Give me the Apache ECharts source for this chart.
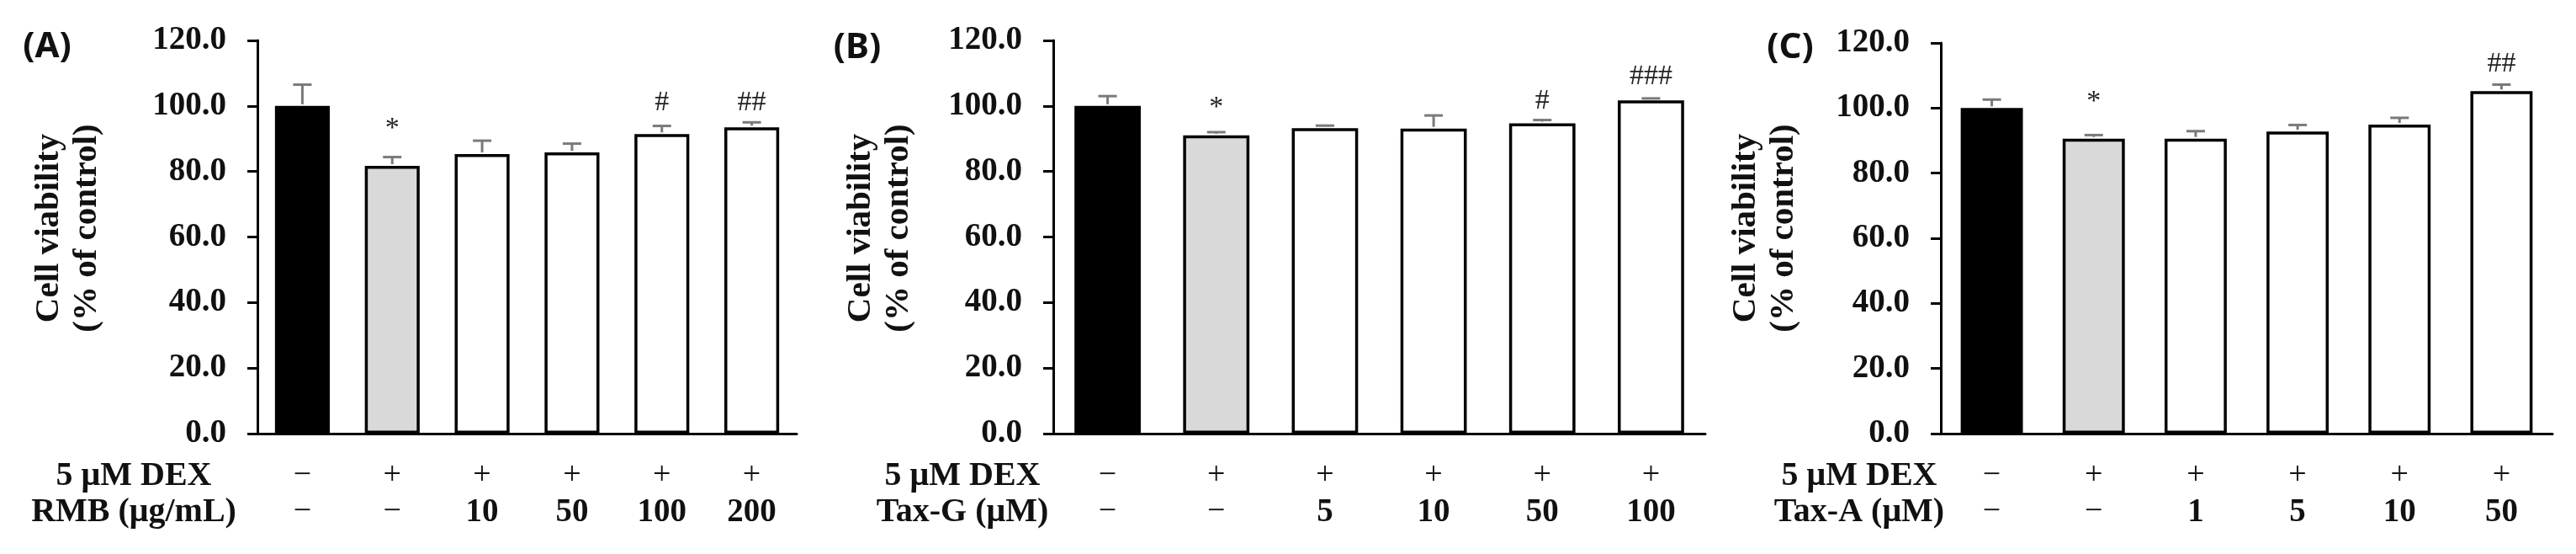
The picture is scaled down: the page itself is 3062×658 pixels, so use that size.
<!DOCTYPE html>
<html>
<head>
<meta charset="utf-8">
<script src="https://cdn.jsdelivr.net/npm/echarts@6/dist/echarts.min.js"></script>
<style>
  html, body { margin: 0; padding: 0; background: #fff; }
  #chart { width: 3062px; height: 658px; }
</style>
</head>
<body>
<div id="chart"></div>
<script>
// treatment rows under each panel
const dexRow = ['−', '+', '+', '+', '+', '+']
const concA = ['−', '−', '10', '50', '100', '200']
const concB = ['−', '−', '5', '10', '50', '100']
const concC = ['−', '−', '1', '5', '10', '50']

// cell viability (% of control), mean and upper error
const meanA = [100, 81.7, 85.3, 85.8, 91.4, 93.5]
const errA = [6.5, 2.7, 4.1, 2.7, 2.5, 1.5]
const meanB = [100, 91.0, 93.2, 93.1, 94.7, 101.7]
const errB = [3.0, 1.0, 0.8, 4.0, 1.0, 0.6]
const meanC = [100, 90.6, 90.6, 92.8, 94.9, 105.2]
const errC = [2.6, 1.1, 2.3, 2.0, 2.1, 2.0]

// significance marks and the value height they sit at
const sigA = ['', '*', '', '', '#', '##']
const sigYA = [null, 93, null, null, 101, 101]
const sigB = ['', '*', '', '', '#', '###']
const sigYB = [null, 99.5, null, null, 101.5, 109]
const sigC = ['', '*', '', '', '', '##']
const sigYC = [null, 102, null, null, null, 113.5]

const yTicks = [0, 20, 40, 60, 80, 100, 120]
const drugLabels = ['RMB (μg/mL)', 'Tax-G (μM)', 'Tax-A (μM)']
const panelNames = ['(A)', '(B)', '(C)']

const panels = [
  { conc: concA, mean: meanA, err: errA, sig: sigA, sigY: sigYA,
    grid: { left: 306, top: 48, width: 641, height: 467 }, yName: 81, rowX: 159, tag: [56, 56] },
  { conc: concB, mean: meanB, err: errB, sig: sigB, sigY: sigYB,
    grid: { left: 1252, top: 48, width: 775, height: 467 }, yName: 1046, rowX: 1144, tag: [1019, 57] },
  { conc: concC, mean: meanC, err: errC, sig: sigC, sigY: sigYC,
    grid: { left: 2307, top: 51, width: 727, height: 464 }, yName: 2098, rowX: 2210, tag: [2128, 57] }
]

const serif = '"Liberation Serif", "Times New Roman", serif'
const ink = '#111'

const chart = echarts.init(document.getElementById('chart'), null, { renderer: 'canvas' })

const grids = []
const xAxes = []
const yAxes = []
const series = []
const graphics = []

panels.forEach((p, i) => {
  grids.push(Object.assign({ containLabel: false }, p.grid))

  xAxes.push({
    type: 'category',
    gridIndex: i,
    data: dexRow.map((d, j) => d + '\n' + p.conc[j]),
    axisLine: { lineStyle: { color: '#000', width: 3 } },
    axisTick: { alignWithLabel: true, length: 12, lineStyle: { color: '#000', width: 3 } },
    axisLabel: {
      interval: 0,
      margin: 29,
      formatter: v => {
        const parts = v.split('\n')
        const second = parts[1] === '−' ? 's' : 'n'
        return '{s|' + parts[0] + '}\n{' + second + '|' + parts[1] + '}'
      },
      rich: {
        s: { fontFamily: serif, fontSize: 38, fontWeight: 'normal', color: ink, lineHeight: 43 },
        n: { fontFamily: serif, fontSize: 39, fontWeight: 'bold', color: ink, lineHeight: 43 }
      }
    }
  })

  yAxes.push({
    type: 'value',
    gridIndex: i,
    min: yTicks[0],
    max: yTicks[yTicks.length - 1],
    interval: 20,
    axisLine: { show: true, lineStyle: { color: '#000', width: 3 } },
    axisTick: { show: true, length: 12, lineStyle: { color: '#000', width: 3 } },
    splitLine: { show: false },
    axisLabel: {
      margin: 37,
      formatter: v => v.toFixed(1),
      fontFamily: serif,
      fontSize: 39,
      fontWeight: 'bold',
      color: ink
    }
  })

  series.push({
    type: 'bar',
    xAxisIndex: i,
    yAxisIndex: i,
    barCategoryGap: '39%',
    itemStyle: { borderColor: '#000', borderWidth: 3.5 },
    data: p.mean.map((v, j) => ({
      value: v,
      itemStyle: { color: j === 0 ? '#000' : (j === 1 ? '#d9d9d9' : '#fff') }
    })),
    z: 2
  })

  series.push({
    type: 'custom',
    xAxisIndex: i,
    yAxisIndex: i,
    encode: { x: 0, y: [1, 2] },
    data: p.mean.map((v, j) => [j, v, v + p.err[j]]),
    renderItem: (params, api) => {
      const base = api.coord([api.value(0), api.value(1)])
      const top = api.coord([api.value(0), api.value(2)])
      const st = { stroke: '#7a7a7a', lineWidth: 3 }
      return {
        type: 'group',
        children: [
          { type: 'line', shape: { x1: base[0], y1: base[1] - 2, x2: top[0], y2: top[1] }, style: st },
          { type: 'line', shape: { x1: top[0] - 11, y1: top[1], x2: top[0] + 11, y2: top[1] }, style: st }
        ]
      }
    },
    z: 3
  })

  const marks = p.sig.map((s, j) => (s ? [j, p.sigY[j], s] : null)).filter(Boolean)
  series.push({
    type: 'custom',
    xAxisIndex: i,
    yAxisIndex: i,
    encode: { x: 0, y: 1 },
    data: marks.map(m => [m[0], m[1]]),
    renderItem: (params, api) => {
      const pt = api.coord([api.value(0), api.value(1)])
      return {
        type: 'text',
        x: pt[0],
        y: pt[1],
        style: {
          text: marks[params.dataIndex][2],
          font: 'normal 34px ' + serif,
          fill: '#222',
          align: 'center',
          verticalAlign: 'middle'
        }
      }
    },
    z: 4
  })

  graphics.push({
    type: 'text',
    x: p.tag[0],
    y: p.tag[1],
    style: {
      text: panelNames[i],
      font: 'bold 42px "Noto Sans", sans-serif',
      fill: ink,
      textAlign: 'center', align: 'center',
      textVerticalAlign: 'middle', verticalAlign: 'middle'
    }
  })
  graphics.push({
    type: 'text',
    x: p.yName,
    y: 271,
    rotation: Math.PI / 2,
    style: {
      text: 'Cell viability\n(% of control)',
      font: 'bold 41px ' + serif,
      lineHeight: 45,
      fill: ink,
      textAlign: 'center', align: 'center',
      textVerticalAlign: 'middle', verticalAlign: 'middle'
    }
  })
  graphics.push({
    type: 'text',
    x: p.rowX,
    y: 566,
    style: {
      text: '5 μM DEX',
      font: 'bold 40px ' + serif,
      fill: ink,
      textAlign: 'center', align: 'center',
      textVerticalAlign: 'middle', verticalAlign: 'middle'
    }
  })
  graphics.push({
    type: 'text',
    x: p.rowX,
    y: 609,
    style: {
      text: drugLabels[i],
      font: 'bold 40px ' + serif,
      fill: ink,
      textAlign: 'center', align: 'center',
      textVerticalAlign: 'middle', verticalAlign: 'middle'
    }
  })
})

chart.setOption({
  backgroundColor: '#fff',
  animation: false,
  grid: grids,
  xAxis: xAxes,
  yAxis: yAxes,
  series: series,
  graphic: graphics
})
</script>
</body>
</html>
